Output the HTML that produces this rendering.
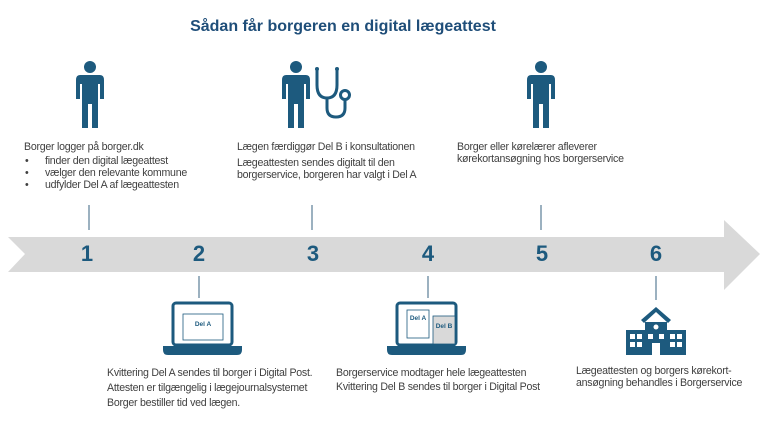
<!DOCTYPE html>
<html><head><meta charset="utf-8"><style>
body{margin:0;width:768px;height:443px;background:#fff;position:relative;overflow:hidden;font-family:"Liberation Sans",sans-serif}
.t{position:absolute;font-size:10.6px;color:#404040;line-height:12px;white-space:nowrap;letter-spacing:-0.25px}
.n{position:absolute;font-size:22px;font-weight:bold;color:#1d5a7e;width:30px;text-align:center;top:241px}
</style></head><body>
<div style="position:absolute;left:0;width:686px;text-align:center;top:18px;font-size:16px;font-weight:bold;color:#1f4e79">Sådan får borgeren en digital lægeattest</div>
<svg width="768" height="443" style="position:absolute;left:0;top:0">
<polygon points="8,237 724,237 724,220 760,254 724,290 724,272 8,272 25,254" fill="#d9d9d9"/>
<g stroke="#5a7d95" stroke-width="1.2">
<line x1="89" y1="205" x2="89" y2="230"/><line x1="312" y1="205" x2="312" y2="230"/><line x1="541" y1="205" x2="541" y2="230"/>
<line x1="199" y1="276" x2="199" y2="298"/><line x1="428" y1="276" x2="428" y2="298"/><line x1="656" y1="276" x2="656" y2="300"/>
</g>
<defs><g id="p" fill="#1d5a7e"><circle cx="0" cy="-27" r="6"/><path d="M-10,-19 H10 Q14,-19 14,-14 V5 H10 V-10 H8 V34 H2 V10 H-2 V34 H-8 V-10 H-10 V5 H-14 V-14 Q-14,-19 -10,-19Z"/></g></defs>
<use href="#p" x="90" y="94"/><use href="#p" x="296" y="94"/><use href="#p" x="541" y="94"/>
<g fill="none" stroke="#1d5a7e" stroke-width="3"><path d="M317,70 V85 Q317,98 327,98 Q337,98 337,85 V70"/><path d="M327,98 V108 Q327,117 336,117 Q345,117 345,108 V100"/><circle cx="345" cy="95" r="4.5"/></g>
<g fill="#1d5a7e"><circle cx="317" cy="69" r="2"/><circle cx="337" cy="69" r="2"/></g>
<g fill="none" stroke="#1d5a7e" stroke-width="3"><rect x="173" y="303" width="59" height="42" rx="3"/><rect x="397" y="303" width="59" height="42" rx="3"/></g>
<path d="M163,346 H242 V350 Q242,355 237,355 H168 Q163,355 163,350Z" fill="#1d5a7e"/>
<path d="M387,346 H466 V350 Q466,355 461,355 H392 Q387,355 387,350Z" fill="#1d5a7e"/>
<rect x="183" y="314" width="40" height="26" fill="#fff" stroke="#1d5a7e" stroke-width="0.8"/>
<text x="203" y="326" font-size="6.5" font-weight="bold" fill="#1d5a7e" text-anchor="middle" font-family="Liberation Sans">Del A</text>
<rect x="407" y="310" width="22" height="28" fill="#fff" stroke="#1d5a7e" stroke-width="0.8"/>
<rect x="433" y="316" width="22" height="28" fill="#d9d9d9" stroke="#1d5a7e" stroke-width="0.8"/>
<text x="418" y="320" font-size="6.5" font-weight="bold" fill="#1d5a7e" text-anchor="middle" font-family="Liberation Sans">Del A</text>
<text x="444" y="328" font-size="6.5" font-weight="bold" fill="#1d5a7e" text-anchor="middle" font-family="Liberation Sans">Del B</text>
<g fill="#1d5a7e"><path d="M641,320 L656,307 L671,320 L668,323 L656,312 L644,323Z"/><rect x="645" y="322" width="22" height="33"/><rect x="626" y="330" width="60" height="25"/></g>
<g fill="#fff"><circle cx="656" cy="327" r="2.5"/><rect x="652" y="343" width="8" height="12"/>
<rect x="630" y="334" width="5" height="5"/><rect x="637" y="334" width="5" height="5"/><rect x="630" y="342" width="5" height="5"/><rect x="637" y="342" width="5" height="5"/>
<rect x="670" y="334" width="5" height="5"/><rect x="677" y="334" width="5" height="5"/><rect x="670" y="342" width="5" height="5"/><rect x="677" y="342" width="5" height="5"/>
<rect x="648" y="334" width="5" height="5"/><rect x="659" y="334" width="5" height="5"/></g>
</svg>
<div class="n" style="left:72px">1</div><div class="n" style="left:184px">2</div><div class="n" style="left:298px">3</div><div class="n" style="left:413px">4</div><div class="n" style="left:527px">5</div><div class="n" style="left:641px">6</div>
<div class="t" style="left:24px;top:141px">Borger logger på borger.dk</div>
<div class="t" style="left:25px;top:155px">•<br>•<br>•</div>
<div class="t" style="left:45px;top:155px">finder den digital lægeattest<br>vælger den relevante kommune<br>udfylder Del A af lægeattesten</div>
<div class="t" style="left:237px;top:141px">Lægen færdiggør Del B i konsultationen</div>
<div class="t" style="left:237px;top:157px">Lægeattesten sendes digitalt til den<br>borgerservice, borgeren har valgt i Del A</div>
<div class="t" style="left:457px;top:141px">Borger eller kørelærer afleverer<br>kørekortansøgning hos borgerservice</div>
<div class="t" style="left:107px;top:366px;line-height:15px">Kvittering Del A sendes til borger i Digital Post.<br>Attesten er tilgængelig i lægejournalsystemet<br>Borger bestiller tid ved lægen.</div>
<div class="t" style="left:336px;top:366px;line-height:14px">Borgerservice modtager hele lægeattesten<br>Kvittering Del B sendes til borger i Digital Post</div>
<div class="t" style="left:576px;top:365px">Lægeattesten og borgers kørekort-<br>ansøgning behandles i Borgerservice</div>
</body></html>
